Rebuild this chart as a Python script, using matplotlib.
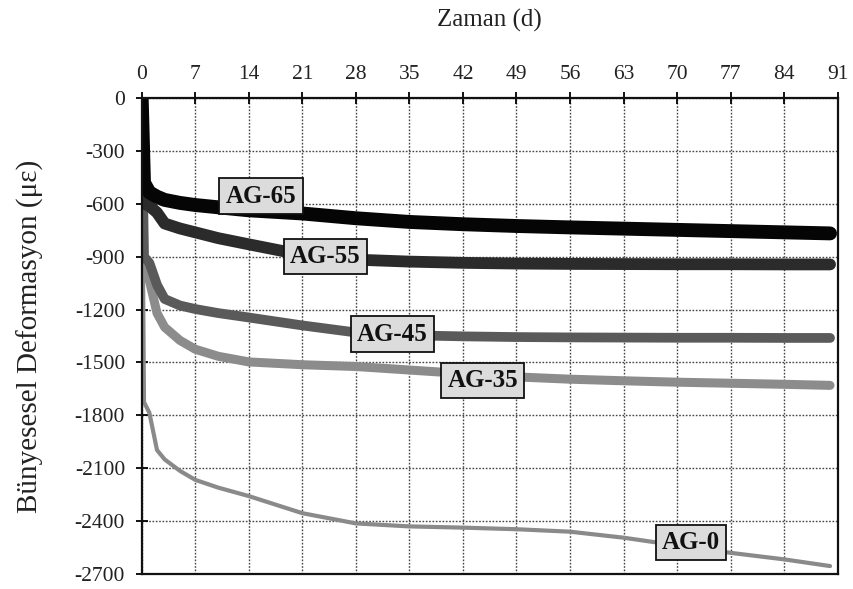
import matplotlib
matplotlib.use("Agg")
import matplotlib.pyplot as plt

# ---- data -------------------------------------------------------------
days = [0, 0.3, 1, 2, 3, 5, 7, 10, 14, 21, 28, 35, 42, 49, 56, 63, 70, 77, 84, 90]

ag65 = [0, -480, -535, -560, -578, -595, -607, -620, -637, -655, -682, -703,
        -716, -726, -734, -741, -748, -755, -762, -768]
ag55 = [0, -600, -612, -650, -712, -740, -762, -795, -830, -890, -917, -928,
        -935, -939, -941, -942, -943, -943, -944, -944]
ag45 = [0, -900, -935, -1060, -1140, -1177, -1197, -1220, -1245, -1290, -1330,
        -1346, -1352, -1356, -1358, -1359, -1360, -1360, -1361, -1361]
ag35 = [0, -990, -1035, -1220, -1300, -1375, -1425, -1465, -1497, -1513, -1523,
        -1543, -1563, -1582, -1595, -1604, -1612, -1618, -1624, -1630]
ag0 = [0, -1725, -1785, -1997, -2050, -2115, -2166, -2210, -2258, -2355, -2413,
       -2430, -2437, -2446, -2460, -2494, -2538, -2580, -2617, -2655]

series_names = ["AG-0", "AG-35", "AG-45", "AG-55", "AG-65"]
series_values = [ag0, ag35, ag45, ag55, ag65]
series_colors = ["#8a8a8a", "#8c8c8c", "#5a5a5a", "#2b2b2b", "#050505"]
series_widths = [3.0, 6.5, 7.0, 8.5, 10.0]

# label anchor positions (data coordinates)
label_x = [71.8, 44.6, 32.8, 24.0, 15.6]
label_y = [-2522, -1603, -1339, -900, -556]

xticks = list(range(0, 92, 7))
yticks = list(range(0, -2701, -300))

# ---- figure -----------------------------------------------------------
fig = plt.figure(figsize=(8.54, 5.89), dpi=100)
ax = fig.add_axes([141.7 / 854, 1 - 574 / 589, (837.7 - 141.7) / 854, (574 - 98) / 589])

serif = ["Liberation Serif", "DejaVu Serif"]

for name, vals, col, lw in zip(series_names, series_values, series_colors, series_widths):
    ax.plot(days, vals, color=col, lw=lw, solid_capstyle="round",
            solid_joinstyle="round", zorder=3)

for name, lx, ly in zip(series_names, label_x, label_y):
    ax.text(lx, ly, name, ha="center", va="center", fontsize=18,
            fontweight="bold", family=serif, color="#111111", zorder=6,
            bbox=dict(boxstyle="square,pad=0.25", fc="#dcdcdc", ec="#111111", lw=1.3))

ax.set_xlim(0, 91)
ax.set_ylim(-2700, 0)
ax.set_xticks(xticks)
ax.set_yticks(yticks)
ax.set_xticklabels([str(t) for t in xticks], family=serif, fontsize=15.5, color="#222222")
ax.set_yticklabels([str(t) for t in yticks], family=serif, fontsize=15.5, color="#222222")

ax.xaxis.tick_top()
ax.tick_params(axis="x", which="both", direction="inout", length=8, width=1.3,
               pad=6, top=True, bottom=False)
ax.tick_params(axis="y", which="both", direction="inout", length=8, width=1.3,
               pad=8, left=True, right=False)

ax.grid(True, linestyle=(0, (1.2, 1.2)), color="#444444", lw=1.0, zorder=1)
ax.set_axisbelow(True)

for sp in ax.spines.values():
    sp.set_linewidth(1.6)
    sp.set_color("#111111")
    sp.set_zorder(5)

ax.xaxis.set_label_position("top")
ax.set_xlabel("Zaman (d)", family=serif, fontsize=18, color="#222222", labelpad=28)
ax.set_ylabel("Bünyesesel Deformasyon (με)", family=serif, fontsize=21, color="#222222")
ax.yaxis.set_label_coords(-0.140, 0.5)

fig.savefig("out.png", dpi=100)
